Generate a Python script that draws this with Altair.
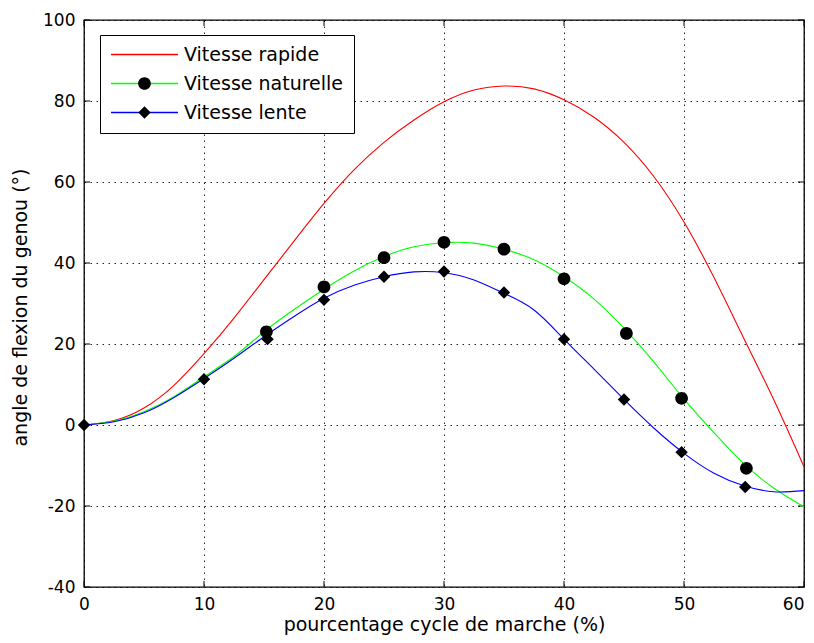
import altair as alt
import pandas as pd

# ---- data ----
series = ["Vitesse rapide", "Vitesse naturelle", "Vitesse lente"]
marker_keys = ["rapide", "naturelle", "lente"]
colors = ["#ff0000", "#00ff00", "#0000ff"]

x_curve = [0, 2.5, 5, 7.5, 10, 12.5, 15, 17.5, 20, 22.5, 25, 27.5, 30,
           32.5, 35, 37.5, 40, 42.5, 45, 47.5, 50, 52.5, 55, 57.5, 60]
rapide = [0, 1.1, 4.2, 9.8, 17.6, 26.4, 35.9, 45.4, 54.7, 63.0, 69.8, 75.3, 79.8,
          82.7, 83.7, 83.0, 80.3, 76.0, 69.8, 61.3, 50.1, 36.4, 21.3, 6.1, -10.3]
naturelle = [0, 1.0, 3.3, 7.0, 11.9, 16.9, 23.0, 28.5, 33.5, 38.0, 41.6, 44.0, 45.0,
             44.9, 43.4, 40.8, 36.6, 31.1, 23.9, 15.5, 6.4, -1.9, -9.6, -15.6, -20.2]
lente = [0, 0.8, 3.0, 6.8, 11.5, 16.5, 21.8, 26.8, 31.3, 34.5, 36.6, 37.8, 37.6,
         35.8, 32.5, 28.4, 21.2, 13.8, 6.3, -0.8, -7.0, -11.9, -15.0, -16.5, -16.2]

nat_mx = [15.2, 20, 25, 30, 35, 40, 45.2, 49.8, 55.2]
nat_my = [23.0, 34.1, 41.3, 45.1, 43.4, 36.1, 22.6, 6.6, -10.7]
lente_mx = [0, 10, 15.3, 20, 25, 30, 35, 40, 45, 49.8, 55.1]
lente_my = [0, 11.3, 21.2, 30.9, 36.6, 37.9, 32.7, 21.2, 6.3, -6.7, -15.3]

x_ticks = [0, 10, 20, 30, 40, 50, 60]
y_ticks = [-40, -20, 0, 20, 40, 60, 80, 100]

# marker shapes: invisible zero-area segment (gives the legend its width) + marker
marker_paths = [
    "M -1 0 L 1 0",
    "M -1 0 L 1 0 M 0.19 0 A 0.19 0.19 0 1 1 -0.19 0 A 0.19 0.19 0 1 1 0.19 0 Z",
    "M -1 0 L 1 0 M 0 -0.185 L 0.185 0 L 0 0.185 L -0.185 0 Z",
]

FONT = "DejaVu Sans"
W, H = 720, 567

curves = pd.DataFrame({
    "x": x_curve * 3,
    "y": rapide + naturelle + lente,
    "serie": [series[0]] * len(x_curve) + [series[1]] * len(x_curve) + [series[2]] * len(x_curve),
})
markers = pd.DataFrame({
    "x": nat_mx + lente_mx,
    "y": nat_my + lente_my,
    "marqueur": [marker_keys[1]] * len(nat_mx) + [marker_keys[2]] * len(lente_mx),
})

x_enc = alt.X(
    "x:Q",
    scale=alt.Scale(domain=[0, 60], nice=False, zero=False),
    axis=alt.Axis(
        values=x_ticks, grid=True, ticks=False, domain=False, labelFlush=False,
        gridColor="#000000", gridDash=[1.5, 4.5], gridWidth=1, gridOpacity=0.85,
        labelFont=FONT, labelFontSize=17, labelColor="#000000", labelPadding=9,
        labelExpr="'' + datum.value",
        labelAlign={"expr": "datum.value == 60 ? 'right' : 'center'"},
        title="pourcentage cycle de marche (%)", titleFont=FONT, titleFontSize=19,
        titleFontWeight="normal", titleColor="#000000", titleY=43,
        titleBaseline="alphabetic",
    ),
)
y_enc = alt.Y(
    "y:Q",
    scale=alt.Scale(domain=[-40, 100], nice=False, zero=False),
    axis=alt.Axis(
        values=y_ticks, grid=True, ticks=False, domain=False,
        gridColor="#000000", gridDash=[1.5, 4.5], gridWidth=1, gridOpacity=0.85,
        labelFont=FONT, labelFontSize=17, labelColor="#000000", labelPadding=9,
        labelExpr="'' + datum.value",
        title="angle de flexion du genou (°)", titleFont=FONT, titleFontSize=19,
        titleFontWeight="normal", titleColor="#000000",
        titleX=-64, titleY=287, titleAngle=270, titleBaseline="middle",
    ),
)

legend_common = dict(
    orient="none", legendX=16, legendY=15, padding=10, title=None,
    labelFont=FONT, labelFontSize=19, labelOffset=5, rowPadding=9,
    clipHeight=19, symbolSize=4489, symbolStrokeWidth=1.5,
)

lines = alt.Chart(curves).mark_line(interpolate="natural", strokeWidth=1.1).encode(
    x=x_enc,
    y=y_enc,
    color=alt.Color(
        "serie:N",
        scale=alt.Scale(domain=series, range=colors),
        sort=series,
        legend=alt.Legend(
            symbolType="stroke", fillColor="#ffffff", strokeColor="#000000",
            labelColor="#000000", **legend_common,
        ),
    ),
)

points = alt.Chart(markers).mark_point(filled=True, opacity=1, strokeWidth=0).encode(
    x="x:Q",
    y="y:Q",
    shape=alt.Shape(
        "marqueur:N",
        scale=alt.Scale(domain=marker_keys, range=marker_paths),
        sort=marker_keys,
        legend=alt.Legend(
            symbolFillColor="#000000", symbolStrokeColor="transparent",
            labelExpr="''", **legend_common,
        ),
    ),
    color=alt.value("#000000"),
    size=alt.value(4489),
)

xt = pd.DataFrame({"x": x_ticks})
yt = pd.DataFrame({"y": y_ticks})
tick_b = alt.Chart(xt).mark_rule(color="#000000", strokeWidth=1).encode(
    x="x:Q", y=alt.value(H), y2=alt.value(H - 6))
tick_t = alt.Chart(xt).mark_rule(color="#000000", strokeWidth=1).encode(
    x="x:Q", y=alt.value(0), y2=alt.value(6))
tick_l = alt.Chart(yt).mark_rule(color="#000000", strokeWidth=1).encode(
    y="y:Q", x=alt.value(0), x2=alt.value(6))
tick_r = alt.Chart(yt).mark_rule(color="#000000", strokeWidth=1).encode(
    y="y:Q", x=alt.value(W), x2=alt.value(W - 6))

chart = alt.layer(tick_b, tick_t, tick_l, tick_r, lines, points).properties(
    width=W, height=H,
    autosize=alt.AutoSizeParams(type="none"),
    padding={"left": 76, "top": 12, "right": 2, "bottom": 48},
    background="#ffffff",
).configure_view(
    stroke="#000000", strokeWidth=1.3,
)

chart.save("out.html", embed_options={"renderer": "svg", "actions": False})
